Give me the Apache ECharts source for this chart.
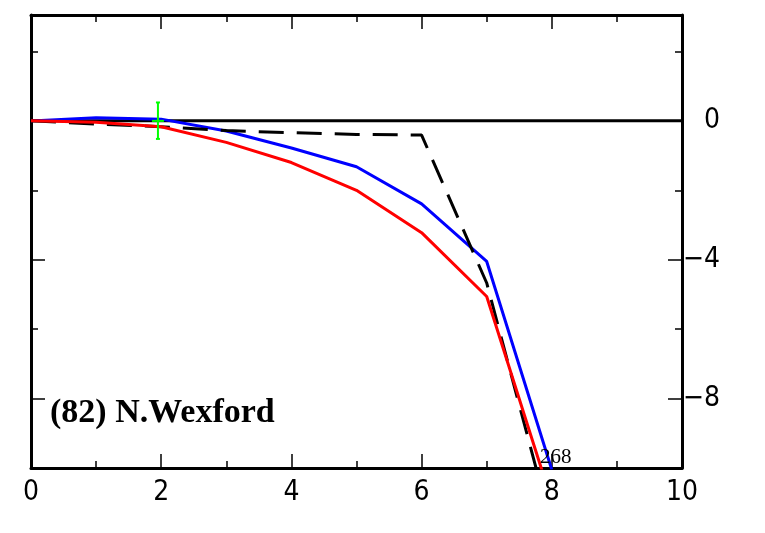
<!DOCTYPE html>
<html>
<head>
<meta charset="utf-8">
<script src="https://cdn.jsdelivr.net/npm/echarts@6/dist/echarts.min.js"></script>
<style>html,body{margin:0;padding:0;background:#fff}#c{width:765px;height:533px}</style>
</head>
<body>
<div id="c"></div>
<script>
var xValues = [0, 1, 2, 3, 4, 5, 6, 7, 8];
var blueValues = [0, 0.09, 0.05, -0.29, -0.78, -1.32, -2.39, -4.05, -10.05];
var redValues = [0, -0.04, -0.17, -0.62, -1.2, -2.0, -3.22, -5.06, -10.96];
var blackValues = [0, -0.09, -0.17, -0.28, -0.34, -0.39, -0.41, -4.67, -11.7];
var zeroLineX = [0, 10];
var zeroLineY = [0, 0];
var errorBar = [1.95, 0, -0.52, 0.53]; // x, centre, low, high
var xTickLabels = [0, 2, 4, 6, 8, 10];
var yTickLabels = [0, -4, -8];
var yMajorTicks = [-4, -8];
var yMinorTicks = [2, -2, -6];
var titleText = '(82) N.Wexford';
var noteText = '268';

function pairs(xs, ys) { return xs.map(function (x, i) { return [x, ys[i]]; }); }

var labelFont = '"Liberation Sans Narrow", "DejaVu Sans Condensed", "Liberation Sans"';
var chart = echarts.init(document.getElementById('c'), null, {renderer: 'canvas'});
var axisLineStyle = {color: '#000', width: 3};
function xAx(pos, showLabel) {
  return {
    type: 'value', position: pos, min: 0, max: 10, interval: 2,
    axisLine: {show: true, onZero: false, lineStyle: axisLineStyle},
    axisTick: {show: true, inside: true, length: 14, lineStyle: {color: '#000', width: 1.5}},
    minorTick: {show: true, splitNumber: 2, length: 7, lineStyle: {color: '#000', width: 1.5}},
    axisLabel: {show: showLabel, color: '#000', fontSize: 28, fontFamily: labelFont, margin: 11,
      customValues: xTickLabels},
    splitLine: {show: false}, minorSplitLine: {show: false}
  };
}
function yAx(pos, ticks, len, showLine, showLabel) {
  return {
    type: 'value', position: pos, offset: 0, min: -10, max: 3.05,
    axisLine: {show: showLine, onZero: false, lineStyle: axisLineStyle},
    axisTick: {show: true, inside: true, length: len, customValues: ticks, lineStyle: {color: '#000', width: 1.5}},
    axisLabel: {show: showLabel, color: '#000', fontSize: 28, fontFamily: labelFont,
      align: 'right', margin: 38, customValues: yTickLabels,
      formatter: function (v) { return v < 0 ? '\u2212' + Math.abs(v) : String(v); }},
    splitLine: {show: false}
  };
}

chart.setOption({
  animation: false,
  backgroundColor: '#fff',
  grid: {left: 31, right: 83, top: 15, bottom: 65},
  xAxis: [xAx('bottom', true), xAx('top', false)],
  yAxis: [
    yAx('right', yMajorTicks, 14, true, true),
    yAx('right', yMinorTicks, 7, false, false),
    yAx('left', yMajorTicks, 14, true, false),
    yAx('left', yMinorTicks, 7, false, false)
  ],
  series: [
    {type: 'line', data: pairs(zeroLineX, zeroLineY), symbol: 'none', lineStyle: {color: '#000', width: 3}, z: 1},
    {type: 'line', data: pairs(xValues, blueValues), symbol: 'none', lineStyle: {color: '#0000ff', width: 3}, clip: true, z: 2},
    {type: 'line', data: pairs(xValues, blackValues), symbol: 'none', lineStyle: {color: '#000', width: 3, type: [25, 13]}, clip: true, z: 3},
    {type: 'line', data: pairs(xValues, redValues), symbol: 'none', lineStyle: {color: '#ff0000', width: 3}, clip: true, z: 4},
    {type: 'custom', z: 5, data: [errorBar],
      renderItem: function (params, api) {
        var x = api.value(0);
        var c = api.coord([x, api.value(1)]);
        var lo = api.coord([x, api.value(2)]);
        var hi = api.coord([x, api.value(3)]);
        var st = {stroke: '#00ff00', lineWidth: 2};
        return {type: 'group', children: [
          {type: 'line', shape: {x1: hi[0], y1: hi[1], x2: lo[0], y2: lo[1]}, style: st},
          {type: 'line', shape: {x1: hi[0] - 2, y1: hi[1], x2: hi[0] + 2, y2: hi[1]}, style: st},
          {type: 'line', shape: {x1: lo[0] - 2, y1: lo[1], x2: lo[0] + 2, y2: lo[1]}, style: st},
          {type: 'line', shape: {x1: c[0] - 6, y1: c[1], x2: c[0] + 6, y2: c[1]}, style: st}
        ]};
      }}
  ],
  graphic: [
    {type: 'text', left: 50, top: 396, z: 10,
      style: {text: titleText, font: 'bold 34px "Liberation Serif"', fill: '#000'}},
    {type: 'text', left: 540, top: 447, z: 10,
      style: {text: noteText, font: '21px "Liberation Serif"', fill: '#000'}}
  ]
});
</script>
</body>
</html>
